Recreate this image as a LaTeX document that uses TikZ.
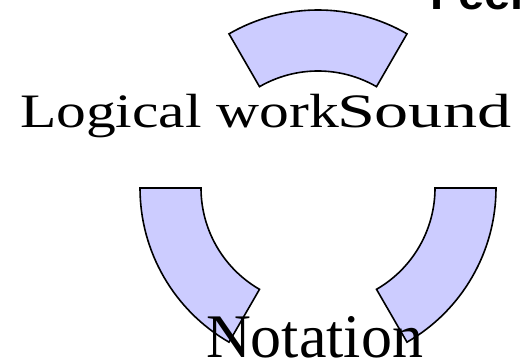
\documentclass[tikz,border=0pt]{standalone}
\usepackage{fontspec}
\setmainfont{Liberation Serif}
\newfontfamily\feelfont{Liberation Sans}
\definecolor{arcfill}{HTML}{CCCCFF}
\tikzset{
  arcseg/.style={fill=arcfill, draw=black, line width=1.6pt, line join=miter},
  bigtext/.style={inner sep=0pt, outer sep=0pt, font=\fontsize{48}{56}\selectfont},
  nottext/.style={inner sep=0pt, outer sep=0pt, font=\fontsize{62}{70}\selectfont},
  feeltext/.style={inner sep=0pt, outer sep=0pt, font=\feelfont\bfseries\fontsize{47}{54}\selectfont}
}
\begin{document}
\begin{tikzpicture}[x=1pt,y=1pt]
\useasboundingbox (0,0) rectangle (530,361);
\clip (0,0) rectangle (530,361);
\begin{scope}[shift={(318,173)}]
  \draw[arcseg] (60:178pt) arc[start angle=60, end angle=120, radius=178pt]
     -- (120:117pt) arc[start angle=120, end angle=60, radius=117pt] -- cycle;
  \draw[arcseg] (180:178pt) arc[start angle=180, end angle=240, radius=178pt]
     -- (240:117pt) arc[start angle=240, end angle=180, radius=117pt] -- cycle;
  \draw[arcseg] (300:178pt) arc[start angle=300, end angle=360, radius=178pt]
     -- (360:117pt) arc[start angle=360, end angle=300, radius=117pt] -- cycle;
\end{scope}
\node[bigtext, anchor=base west] (logical) at (20,233) {\scalebox{1.24}[1]{Logical work}};
\node[bigtext, anchor=base west] (sound) at (337,233) {\scalebox{1.42}[1]{Sound}};
\node[nottext, anchor=base west] (notation) at (206,3) {Notation};
\node[feeltext, anchor=base west] (feel) at (430,351) {Feel};
\end{tikzpicture}
\end{document}
